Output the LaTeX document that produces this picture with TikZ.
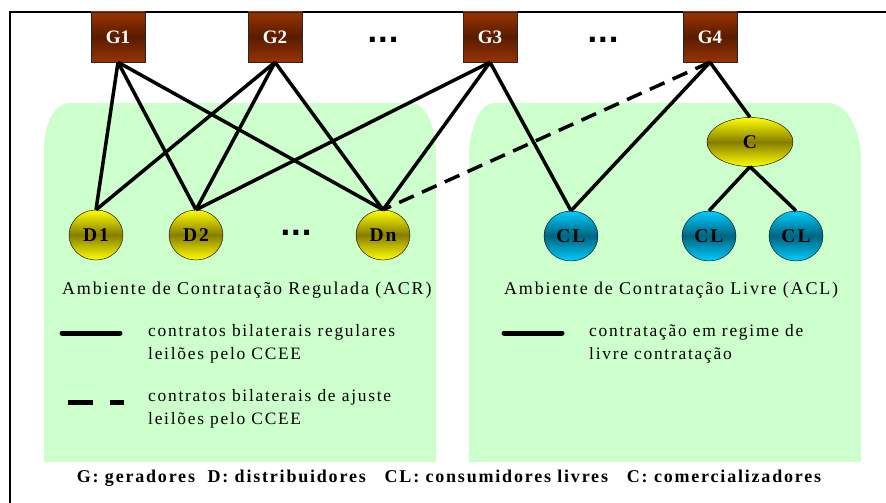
\documentclass[tikz,border=0pt]{standalone}
\usepackage{fontspec}
\setmainfont{Liberation Serif}
\newfontfamily\spaced[LetterSpace=10]{Liberation Serif}
\newfontfamily\dotfont{DejaVu Sans}
\usetikzlibrary{shapes.geometric}
\definecolor{genlight}{RGB}{153,51,0}
\definecolor{gendark}{RGB}{88,28,0}
\definecolor{distlight}{RGB}{255,255,0}
\definecolor{distdark}{RGB}{135,125,0}
\definecolor{clilight}{RGB}{0,204,255}
\definecolor{clidark}{RGB}{0,100,128}
\definecolor{panelgreen}{RGB}{204,255,204}
\tikzset{
  gen/.style={rectangle,draw=black!85,top color=genlight,bottom color=genlight,middle color=gendark,minimum width=54pt,minimum height=50pt,inner sep=0pt,text=white,font=\fontsize{19}{19}\selectfont\bfseries},
  dist/.style={ellipse,draw=black,top color=distlight,bottom color=distlight,middle color=distdark,minimum width=54pt,minimum height=50pt,inner sep=0pt,font=\fontsize{19.5}{19.5}\selectfont\spaced\bfseries},
  cli/.style={ellipse,draw=black,top color=clilight,bottom color=clilight,middle color=clidark,minimum width=54pt,minimum height=50pt,inner sep=0pt,font=\fontsize{19.5}{19.5}\selectfont\spaced\bfseries},
  link/.style={line width=3.5pt},
  adjust/.style={line width=3.5pt,dash pattern=on 16pt off 9pt},
  legline/.style={line width=5pt,line cap=round},
  envtext/.style={anchor=west,inner sep=0pt,font=\fontsize{18}{23}\selectfont\spaced,align=left},
  legtext/.style={envtext,font=\fontsize{17.4}{23}\selectfont\spaced},
  dots/.style={inner sep=0pt,font=\fontsize{28}{28}\selectfont\dotfont\bfseries}
}
\begin{document}
\begin{tikzpicture}[x=1pt,y=-1pt]
  \useasboundingbox (0,0) rectangle (886,503);
  % ambientes
  \fill[panelgreen] (44,462) -- (44,150) .. controls (44,122) and (55,103) .. (70,103) -- (411,103) .. controls (425,103) and (436,125) .. (436,155) -- (436,462) -- cycle;
  \fill[panelgreen] (469,462) -- (469,158) .. controls (469,128) and (480,103) .. (494,103) -- (828,103) .. controls (846,103) and (861,128) .. (861,160) -- (861,462) -- cycle;
  \draw[line width=2pt] (10,504) -- (10,12) -- (887,12);

  % geradores
  \node[gen] (G1) at (118,37) {G1};
  \node[gen] (G2) at (275,37) {G2};
  \node[gen] (G3) at (490,37) {G3};
  \node[gen] (G4) at (710,37) {G4};
  \node[dots] (gdotsA) at (383,40) {...};
  \node[dots] (gdotsB) at (603,40) {...};

  % distribuidores e consumidores
  \node[dist] (D1) at (96,235) {D1};
  \node[dist] (D2) at (196,235) {D2};
  \node[dots] (ddots) at (296,233) {...};
  \node[dist] (Dn) at (383,235) {Dn};
  \node[cli] (CL1) at (571,236) {CL};
  \node[dist,minimum width=86pt,minimum height=49pt] (C) at (750,142) {C};
  \node[cli] (CL2) at (709,236) {CL};
  \node[cli] (CL3) at (796,236) {CL};

  \draw[link] (G1.south) -- (D1.north);
  \draw[link] (G1.south) -- (D2.north);
  \draw[link] (G1.south) -- (Dn.north);
  \draw[link] (G2.south) -- (D1.north);
  \draw[link] (G2.south) -- (D2.north);
  \draw[link] (G2.south) -- (Dn.north);
  \draw[link] (G3.south) -- (D2.north);
  \draw[link] (G3.south) -- (Dn.north);
  \draw[link] (G3.south) -- (CL1.north);
  \draw[link] (G4.south) -- (CL1.north);
  \draw[link] (G4.south) -- (C.north);
  \draw[adjust] (G4.south) -- (Dn.north);
  \draw[link] (C.south) -- (CL2.north);
  \draw[link] (C.south) -- (CL3.north);

  % legendas
  \node[envtext] (acr) at (62,290) {Ambiente de Contratação Regulada (ACR)};
  \node[envtext] (acl) at (504,290) {Ambiente de Contratação Livre (ACL)};
  \coordinate (regA) at (62,333);
  \coordinate (regB) at (120,333);
  \draw[legline] (regA) -- (regB);
  \node[legtext] (regtxt) at (148,344) {contratos bilaterais regulares\\leilões pelo CCEE};
  \coordinate (ajA) at (68,402);
  \coordinate (ajB) at (124,402);
  \draw[line width=5pt,dash pattern=on 25pt off 17pt] (ajA) -- (ajB);
  \node[legtext] (ajtxt) at (148,409) {contratos bilaterais de ajuste\\leilões pelo CCEE};
  \coordinate (livA) at (504,333);
  \coordinate (livB) at (562,333);
  \draw[legline] (livA) -- (livB);
  \node[legtext] (livtxt) at (589,344) {contratação em regime de\\livre contratação};

  \node[inner sep=0pt,font=\fontsize{18}{18}\selectfont\spaced\bfseries] (siglas) at (449,478) {G: geradores\ \ D: distribuidores\ \ \ CL: consumidores livres\ \ \ C: comercializadores};
\end{tikzpicture}
\end{document}
